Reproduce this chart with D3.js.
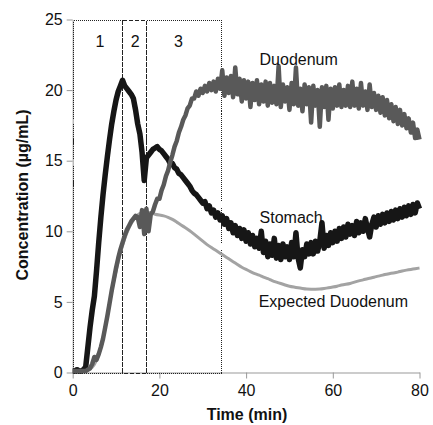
<!DOCTYPE html>
<html>
<head>
    <title>Concentration vs Time</title>
    <script src="https://cdnjs.cloudflare.com/ajax/libs/d3/7.8.5/d3.min.js"></script>
    <style>
        body { margin: 0; background: #fff; }
        svg text { font-family: "Liberation Sans", Arial, sans-serif; fill: #111; }
        .axis path, .axis line { stroke: #999; }
        .axis text { font-size: 16px; fill: #111; }
        .box { fill: none; stroke: #222; stroke-width: 1; shape-rendering: crispEdges; }
    </style>
</head>
<body>
    <div id="chart"></div>
    <script>
        // sampled every 0.5 min, 0..80
        const step = 0.5;
        const stomach = [
            0.1, 0.1, 0.2, 0.1, 0.1, 0.2, 0.4, 1.8, 3.2, 4.4,
            5.4, 7.2, 9.2, 11.0, 12.6, 14.0, 15.3, 16.5, 17.6, 18.5,
            19.3, 19.9, 20.3, 20.7, 20.3, 20.1, 19.9, 19.7, 19.4, 18.6,
            17.6, 16.9, 15.6, 13.6, 15.2, 15.4, 15.6, 15.8, 15.9, 16.0,
            15.8, 15.7, 15.5, 15.3, 15.1, 14.8, 14.8, 14.5, 14.4, 14.1,
            14.0, 13.8, 13.6, 13.4, 13.2, 12.9, 12.7, 12.6, 12.4, 12.2,
            12.0, 12.1, 11.6, 11.8, 11.3, 11.5, 11.0, 11.3, 10.8, 11.1,
            10.5, 10.9, 10.2, 10.6, 9.9, 10.4, 9.7, 10.2, 9.5, 10.1,
            9.3, 9.9, 9.1, 9.7, 8.9, 9.5, 8.8, 10.0, 8.5, 9.3,
            8.2, 9.1, 8.3, 9.5, 8.1, 9.0, 8.0, 9.1, 8.2, 8.9,
            8.0, 9.2, 8.2, 9.9, 8.1, 7.4, 8.7, 8.2, 9.1, 8.4,
            9.2, 8.4, 9.3, 8.6, 9.3, 10.6, 8.8, 9.7, 9.0, 9.9,
            9.2, 10.0, 9.3, 10.2, 9.5, 10.3, 9.6, 10.5, 9.8, 10.4,
            9.7, 10.7, 9.9, 10.6, 10.0, 10.9, 10.2, 9.6, 10.5, 11.0,
            10.3, 11.1, 10.5, 11.2, 10.6, 11.3, 10.7, 11.4, 10.8, 11.5,
            10.9, 11.6, 11.0, 11.7, 11.1, 11.8, 11.2, 11.9, 11.3, 12.0,
            11.6
        ];
        const duodenum = [
            0.1, 0.1, 0.1, 0.1, 0.1, 0.1, 0.1, 0.2, 0.3, 0.6,
            1.1, 0.9, 1.3, 1.8, 2.4, 3.2, 4.0, 4.9, 5.8, 6.6,
            7.4, 8.1, 8.7, 9.2, 9.7, 10.1, 10.4, 10.7, 10.9, 11.1,
            11.0, 10.3, 11.5, 9.8, 11.6, 10.0, 11.2, 11.4, 11.9, 12.3,
            12.3, 12.9, 13.3, 13.9, 14.3, 14.9, 15.4, 16.0, 16.4, 17.0,
            17.4, 17.9, 18.2, 18.7, 18.9, 19.4, 19.4, 19.9, 19.6, 20.1,
            19.8, 20.3, 19.9, 20.5, 20.0, 20.6, 19.9, 20.8, 20.1, 21.4,
            19.6, 20.9, 19.8, 21.0, 19.5, 21.6, 19.7, 20.8, 19.2, 20.7,
            19.4, 20.6, 18.8, 20.5, 19.3, 20.7, 19.0, 20.4, 19.2, 20.6,
            18.9, 20.5, 19.1, 20.3, 19.0, 21.7, 18.8, 20.4, 19.2, 20.2,
            18.6, 20.5, 19.0, 21.6, 18.9, 20.1, 18.5, 20.4, 19.0, 20.2,
            17.7, 20.3, 18.9, 20.0, 17.4, 20.2, 18.8, 20.3, 17.9, 20.1,
            18.7, 20.2, 18.9, 20.4, 18.8, 20.0, 18.9, 20.3, 18.8, 20.6,
            18.9, 20.1, 18.7, 20.5, 18.9, 19.9, 18.6, 20.4, 18.8, 19.8,
            18.6, 19.6, 18.4, 19.5, 18.2, 19.3, 18.0, 19.0, 17.8, 18.8,
            17.6, 18.6, 17.5, 18.3, 17.3, 18.0, 17.0, 17.7, 16.6, 17.2,
            16.5
        ];
        // smooth model curve, one value per minute 0..80
        const expected = [
            0.1, 0.1, 0.1, 0.1, 0.2, 0.5, 1.2, 2.4, 4.0, 5.8,
            7.2, 8.5, 9.5, 10.3, 10.8, 11.2, 11.35, 11.4, 11.3, 11.2,
            11.15, 11.1, 11.0, 10.85, 10.65, 10.45, 10.25, 10.05, 9.8, 9.55,
            9.3, 9.05, 8.85, 8.65, 8.45, 8.25, 8.05, 7.85, 7.65, 7.45,
            7.3, 7.15, 7.0, 6.9, 6.75, 6.65, 6.5, 6.4, 6.3, 6.2,
            6.1, 6.05, 6.0, 5.95, 5.9, 5.9, 5.9, 5.9, 5.95, 6.0,
            6.05, 6.1, 6.2, 6.25, 6.3, 6.4, 6.5, 6.55, 6.65, 6.7,
            6.8, 6.85, 6.95, 7.0, 7.05, 7.1, 7.2, 7.25, 7.3, 7.35,
            7.4
        ];
        // phase boxes (start, end in min)
        const phases = [
            { label: '1', start: 0, end: 11.45, labelX: 6.3 },
            { label: '2', start: 11.45, end: 16.8, labelX: 14.4 },
            { label: '3', start: 16.8, end: 34.3, labelX: 24.4 }
        ];
        const xTicks = [0, 20, 40, 60, 80];
        const yTicks = [0, 5, 10, 15, 20, 25];
        const seriesLabels = [
            { text: 'Duodenum', x: 43.1, y: 21.8 },
            { text: 'Stomach', x: 43.1, y: 10.6 },
            { text: 'Expected Duodenum', x: 42.9, y: 4.65 }
        ];

        const W = 433, H = 425;
        const svg = d3.select('#chart').append('svg')
            .attr('width', W)
            .attr('height', H);

        const x = d3.scaleLinear().domain([0, 80]).range([72.7, 419.5]);
        const y = d3.scaleLinear().domain([0, 25]).range([372.5, 19.5]);

        // axes
        svg.append('g')
            .attr('class', 'axis')
            .attr('transform', `translate(0,${y(0)})`)
            .call(d3.axisBottom(x).tickValues(xTicks).tickSize(6).tickPadding(4).tickSizeOuter(0))
            .selectAll('text').attr('dy', '0.85em');

        svg.append('g')
            .attr('class', 'axis')
            .attr('transform', `translate(${x(0)},0)`)
            .call(d3.axisLeft(y).tickValues(yTicks).tickSize(6).tickPadding(4).tickSizeOuter(0));

        svg.selectAll('.axis .domain').attr('stroke', '#999');

        // phase boxes
        svg.selectAll('.box')
            .data(phases)
            .enter()
            .append('rect')
            .attr('class', 'box')
            .attr('x', d => Math.round(x(d.start)) + 0.5)
            .attr('y', Math.round(y(25)) + 0.5)
            .attr('width', d => Math.round(x(d.end)) - Math.round(x(d.start)))
            .attr('height', Math.round(y(0)) - Math.round(y(25)))
            .attr('stroke-dasharray', d => d.label === '2' ? '4,2' : '1,1');

        svg.selectAll('.phase-label')
            .data(phases)
            .enter()
            .append('text')
            .attr('class', 'phase-label')
            .attr('x', d => x(d.labelX))
            .attr('y', 47)
            .attr('text-anchor', 'middle')
            .style('font-size', '16px')
            .text(d => d.label);

        // lines
        const lineHalf = d3.line()
            .x((d, i) => x(i * step))
            .y(d => y(d));

        const lineMinute = d3.line()
            .x((d, i) => x(i))
            .y(d => y(d))
            .curve(d3.curveBasis);

        svg.append('path')
            .datum(stomach)
            .attr('fill', 'none')
            .attr('stroke', '#161616')
            .attr('stroke-width', 5.5)
            .attr('stroke-linejoin', 'round')
            .attr('d', lineHalf);

        svg.append('path')
            .datum(expected)
            .attr('fill', 'none')
            .attr('stroke', '#a3a3a3')
            .attr('stroke-width', 3)
            .attr('d', lineMinute);

        svg.append('path')
            .datum(duodenum)
            .attr('fill', 'none')
            .attr('stroke', '#595959')
            .attr('stroke-width', 4.5)
            .attr('stroke-linejoin', 'round')
            .attr('d', lineHalf);

        // series labels
        svg.selectAll('.series-label')
            .data(seriesLabels)
            .enter()
            .append('text')
            .attr('class', 'series-label')
            .attr('x', d => x(d.x))
            .attr('y', d => y(d.y))
            .style('font-size', '16px')
            .text(d => d.text);

        // axis titles
        svg.append('text')
            .attr('x', 247)
            .attr('y', 420)
            .attr('text-anchor', 'middle')
            .style('font-size', '16px')
            .style('font-weight', 'bold')
            .text('Time (min)');

        svg.append('text')
            .attr('transform', 'translate(28,195) rotate(-90)')
            .attr('text-anchor', 'middle')
            .style('font-size', '16px')
            .style('font-weight', 'bold')
            .text('Concentration (µg/mL)');
    </script>
</body>
</html>
